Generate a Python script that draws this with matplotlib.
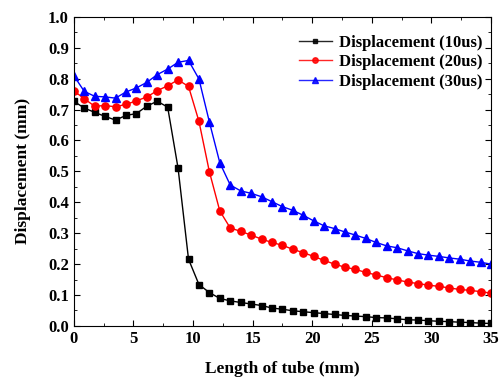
import matplotlib
matplotlib.use('Agg')
import matplotlib.pyplot as plt
import numpy as np

plt.rcParams['font.family'] = ['Liberation Serif', 'DejaVu Serif']
plt.rcParams['font.weight'] = 'bold'

# 41 sample points along the tube, 0.875 mm apart
length = np.linspace(0, 35, 41)

disp_10us = [0.727, 0.705, 0.691, 0.678, 0.666, 0.681, 0.687, 0.711, 0.727, 0.708,
             0.510, 0.216, 0.134, 0.108, 0.089, 0.081, 0.076, 0.071, 0.066, 0.058,
             0.054, 0.049, 0.046, 0.043, 0.040, 0.037, 0.034, 0.032, 0.030, 0.027,
             0.026, 0.023, 0.020, 0.019, 0.017, 0.015, 0.014, 0.012, 0.011, 0.009,
             0.008]
disp_20us = [0.761, 0.735, 0.711, 0.713, 0.709, 0.717, 0.728, 0.741, 0.761, 0.777,
             0.796, 0.775, 0.662, 0.499, 0.372, 0.317, 0.306, 0.294, 0.281, 0.270,
             0.261, 0.248, 0.237, 0.225, 0.212, 0.200, 0.190, 0.183, 0.173, 0.165,
             0.156, 0.149, 0.142, 0.137, 0.132, 0.128, 0.123, 0.118, 0.115, 0.111,
             0.106]
disp_30us = [0.810, 0.759, 0.743, 0.741, 0.737, 0.757, 0.770, 0.788, 0.813, 0.831,
             0.853, 0.859, 0.799, 0.660, 0.528, 0.456, 0.437, 0.429, 0.418, 0.402,
             0.386, 0.374, 0.358, 0.340, 0.324, 0.315, 0.304, 0.294, 0.283, 0.270,
             0.259, 0.253, 0.243, 0.234, 0.229, 0.225, 0.220, 0.216, 0.210, 0.206,
             0.200]

fig = plt.figure(figsize=(5.02, 3.83), dpi=100)
ax = fig.add_axes([0.147, 0.149, 0.831, 0.807])

ax.plot(length, disp_10us, color='black', marker='s', markersize=4.6, linewidth=1,
        label='Displacement (10us)')
ax.plot(length, disp_20us, color='red', marker='o', markersize=5.2, linewidth=1,
        label='Displacement (20us)')
ax.plot(length, disp_30us, color='blue', marker='^', markersize=6.2, linewidth=1,
        label='Displacement (30us)')

ax.set_xlim(0, 35)
ax.set_ylim(0, 1.0)
ax.set_xticks(np.arange(0, 36, 5))
ax.set_yticks(np.arange(0, 1.01, 0.1))
ax.set_xticks(np.arange(2.5, 35, 5), minor=True)
ax.set_yticks(np.arange(0.05, 1.0, 0.1), minor=True)
ax.yaxis.set_major_formatter(plt.FuncFormatter(lambda v, p: f'{v:.1f}'))
ax.tick_params(which='both', direction='in', top=True, right=True, labelsize=12)
ax.tick_params(which='major', length=4)
ax.tick_params(which='minor', length=2)

ax.set_xlabel('Length of tube (mm)', fontsize=12.5, fontweight='bold', labelpad=10)
ax.set_ylabel('Displacement (mm)', fontsize=12.5, fontweight='bold', labelpad=12)

leg = ax.legend(loc='upper right', bbox_to_anchor=(1.015, 0.99), frameon=False,
                fontsize=12, markerscale=0.75, handlelength=2.0,
                handletextpad=0.4, labelspacing=0.2)
for h in leg.legend_handles:
    h.set_alpha(0.85)

plt.savefig('out.png', dpi=100)
